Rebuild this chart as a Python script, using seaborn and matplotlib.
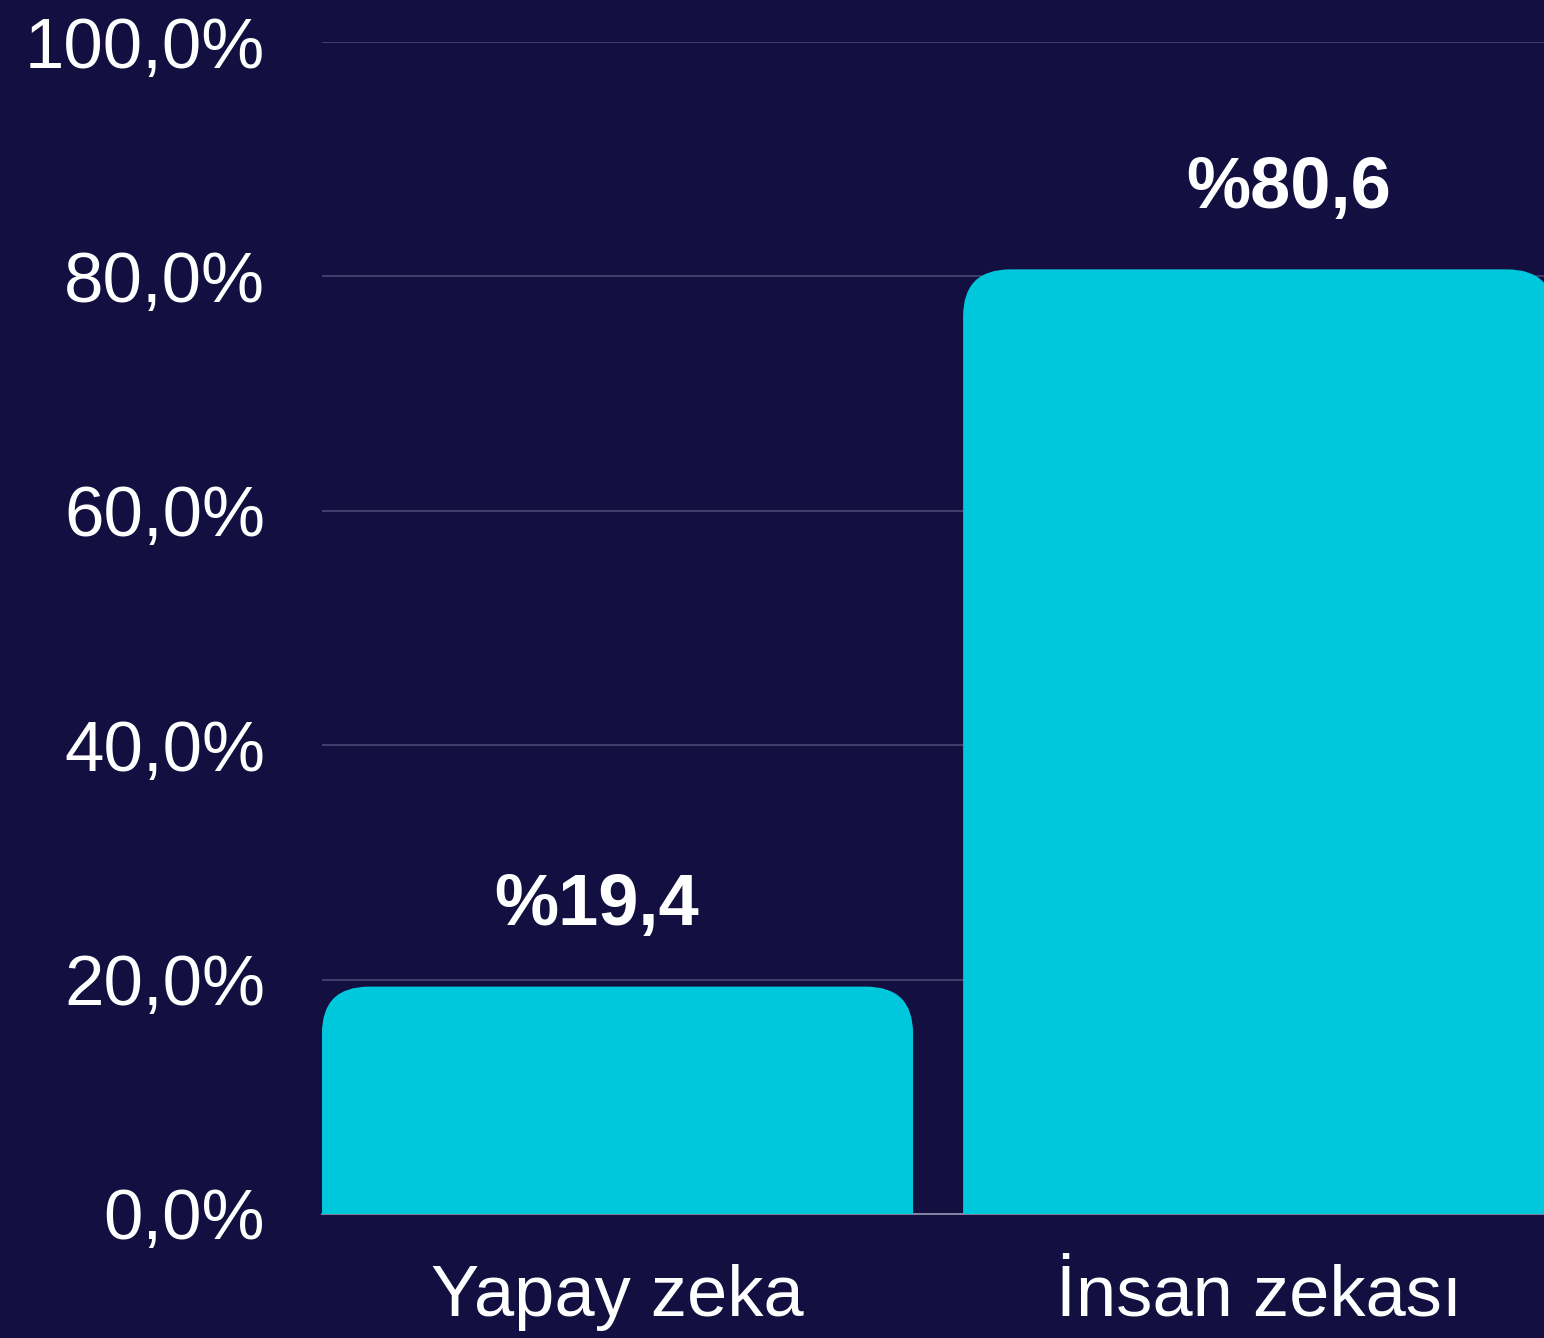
import seaborn as sns
import matplotlib.pyplot as plt
from matplotlib.patches import FancyBboxPatch
from matplotlib.ticker import FuncFormatter
import pandas as pd

# veriler
kategoriler = ["Yapay zeka", "İnsan zekası"]
oranlar = [19.4, 80.6]
etiketler = ["%19,4", "%80,6"]

arka = "#130f40"
renk = "#00c8dc"

sns.set_theme(style="white")
plt.rcParams["font.family"] = ["Liberation Sans", "DejaVu Sans"]

fig = plt.figure(figsize=(15.44, 13.38), dpi=100, facecolor=arka)
ax = fig.add_axes([0.2085, 0.0927, 0.7915, 0.8759])
ax.set_facecolor(arka)

df = pd.DataFrame({"kategori": kategoriler, "oran": oranlar})
sns.barplot(df, x="kategori", y="oran", color=renk, width=0.922,
            saturation=1, ax=ax, zorder=2)

ax.set_xlim(-0.461, 1.445)
ax.set_ylim(0, 100)

# köşeleri yuvarlak çubuklar
asp = 641 / 11.72
r = 47 / 641
for p in list(ax.patches):
    x, w, h = p.get_x(), p.get_width(), p.get_height()
    p.remove()
    kutu = FancyBboxPatch((x + r, -10), w - 2 * r, h + 10 - r * asp,
                          boxstyle=f"round,pad={r},rounding_size={r}",
                          mutation_aspect=asp, facecolor=renk,
                          edgecolor="none", zorder=2)
    ax.add_patch(kutu)

# değer etiketleri
kaydir = [-21, 30]
for i, (v, t) in enumerate(zip(oranlar, etiketler)):
    ax.annotate(t, (i, v), xytext=(kaydir[i] * 0.72, 44), textcoords="offset points",
                ha="center", va="baseline", color="white", fontsize=52,
                fontweight="bold")

ax.set_yticks([0, 20, 40, 60, 80, 100])
ax.yaxis.set_major_formatter(FuncFormatter(lambda v, _: f"{v:.1f}%".replace(".", ",")))
ax.tick_params(axis="y", length=0, pad=41, labelsize=51, labelcolor="white")
ax.tick_params(axis="x", length=0, pad=36, labelsize=52, labelcolor="white")
ax.yaxis.grid(True, color="#45426f", linewidth=1.3, zorder=0)
ax.set_axisbelow(True)
ax.set(xlabel="", ylabel="")

for s in ["top", "right", "left"]:
    ax.spines[s].set_visible(False)
ax.spines["bottom"].set_color("#8c8ca8")
ax.spines["bottom"].set_linewidth(1.3)
ax.spines["bottom"].set_zorder(1)

fig.savefig("out.png", dpi=100, facecolor=arka)
